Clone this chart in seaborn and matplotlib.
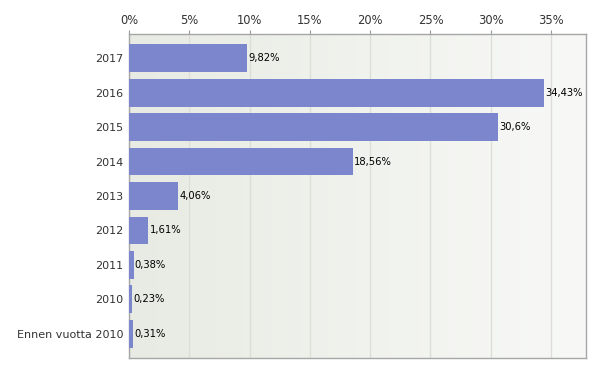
import numpy as np
import pandas as pd
import matplotlib
matplotlib.use("Agg")
import matplotlib.pyplot as plt
import seaborn as sns

# Data
categories = ["2017", "2016", "2015", "2014", "2013", "2012", "2011", "2010", "Ennen vuotta 2010"]
values = [9.82, 34.43, 30.6, 18.56, 4.06, 1.61, 0.38, 0.23, 0.31]
value_labels = ["9,82%", "34,43%", "30,6%", "18,56%", "4,06%", "1,61%", "0,38%", "0,23%", "0,31%"]
ticks = [0, 5, 10, 15, 20, 25, 30, 35]

df = pd.DataFrame({"category": categories, "value": values})

sns.set_style("white")
plt.rcParams["font.family"] = ["DejaVu Sans"]

fig = plt.figure(figsize=(6.0, 3.73), dpi=100)
ax = fig.add_axes([129 / 600, 15 / 373, 457 / 600, 324 / 373])

# background gradient
grad = np.linspace(0, 1, 256).reshape(1, -1)
cmap = matplotlib.colors.LinearSegmentedColormap.from_list("bg", ["#e8ebe3", "#f8f9f7"])
ax.imshow(grad, aspect="auto", cmap=cmap, extent=[0, 37.9, 8.7, -0.7], zorder=0)

sns.barplot(data=df, x="value", y="category", color="#7b86cc", saturation=1,
            width=0.81, ax=ax, zorder=3)
for p in ax.patches:
    p.set_edgecolor("none")

for i, (v, lab) in enumerate(zip(values, value_labels)):
    ax.text(v + 0.1, i, lab, va="center", ha="left", fontsize=7.2, color="black", zorder=4)

ax.set_xlim(0, 37.9)
ax.set_ylim(8.7, -0.7)
ax.xaxis.tick_top()
ax.set_xticks(ticks)
ax.set_xticklabels([f"{t}%" for t in ticks])
ax.tick_params(axis="x", length=3, color="#999999", labelsize=8.3, labelcolor="#333333", pad=2, top=True)
ax.tick_params(axis="y", length=0, labelsize=8, labelcolor="#333333", pad=4)
ax.grid(axis="x", color="#dcdfd8", linewidth=1, zorder=1)
ax.set_axisbelow(True)
ax.set_xlabel("")
ax.set_ylabel("")
for s in ax.spines.values():
    s.set_color("#a6a6a6")
    s.set_linewidth(1)

fig.savefig("out.png", dpi=100)
